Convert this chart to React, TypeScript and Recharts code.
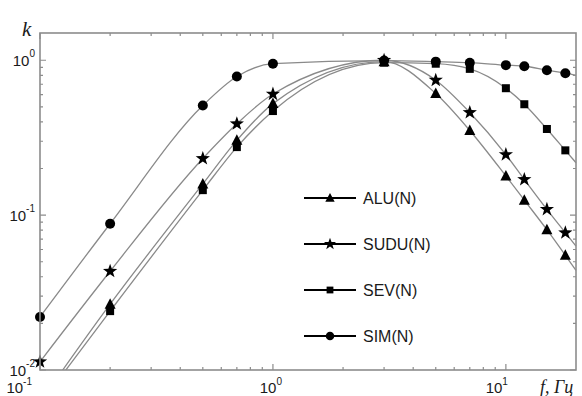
import React from 'react';
import { ComposedChart, Line, Scatter, XAxis, YAxis, Legend } from 'recharts';

// frequencies (Hz) and values k for each series
const freq = [0.1, 0.2, 0.5, 0.7, 1, 3, 5, 7, 10, 12, 15, 18, 20];
const aluValues = [0.0062, 0.0266, 0.159, 0.304, 0.525, 0.98, 0.61, 0.352, 0.179, 0.125, 0.0805, 0.055, 0.044];
const suduValues = [0.0113, 0.0434, 0.232, 0.389, 0.605, 1.0, 0.744, 0.46, 0.246, 0.17, 0.109, 0.077, 0.063];
const sevValues = [0.006, 0.024, 0.145, 0.275, 0.47, 0.965, 0.95, 0.88, 0.66, 0.52, 0.36, 0.262, 0.218];
const simValues = [0.022, 0.088, 0.51, 0.785, 0.95, 0.995, 0.98, 0.965, 0.93, 0.915, 0.863, 0.825, 0.8];
const markerFreq = [0.1, 0.2, 0.5, 0.7, 1, 3, 5, 7, 10, 12, 15, 18];
const seriesNames = ['ALU(N)', 'SUDU(N)', 'SEV(N)', 'SIM(N)'];
const markerKinds = ['triangle', 'star', 'square', 'circle'];

const xMajorTicks = [0.1, 1, 10];
const xExponents = ['-1', '0', '1'];
const xMinorTicks = [0.2, 0.3, 0.4, 0.5, 0.6, 0.7, 0.8, 0.9, 2, 3, 4, 5, 6, 7, 8, 9];
const yMajorTicks = [0.01, 0.1, 1];
const yExponents = ['-2', '-1', '0'];
const yMinorTicks = [0.02, 0.03, 0.04, 0.05, 0.06, 0.07, 0.08, 0.09, 0.2, 0.3, 0.4, 0.5, 0.6, 0.7, 0.8, 0.9];

const xTicks = [...xMajorTicks, ...xMinorTicks].sort((a, b) => a - b);
const yTicks = [...yMajorTicks, ...yMinorTicks].sort((a, b) => a - b);
const X_DOMAIN: [number, number] = [0.1, 20];
const Y_DOMAIN: [number, number] = [0.01, 1.5];

const seriesValues = [aluValues, suduValues, sevValues, simValues];
const curveData = seriesValues.map((vals) => freq.map((f, i) => ({ f, k: vals[i] })));
const markerData = seriesValues.map((vals) =>
  freq
    .map((f, i) => ({ f, k: vals[i] }))
    .filter((p) => markerFreq.includes(p.f) && p.k >= Y_DOMAIN[0])
);

// layout
const W = 582;
const H = 396;
const M_TOP = 32;
const M_RIGHT = 5;
const X_AXIS_H = 26;
const Y_AXIS_W = 40;
const PLOT_LEFT = Y_AXIS_W;
const PLOT_TOP = M_TOP + 1;
const PLOT_H = H - M_TOP - X_AXIS_H - 1;
const PLOT_W = W - M_RIGHT - Y_AXIS_W - 1;

const FRAME = '#8c8c8c';
const CURVE = '#8a8a8a';
const TEXT = '#1a1a1a';
const SANS = '"Liberation Sans", Arial, sans-serif';
const SERIF = '"Liberation Serif", "Times New Roman", serif';

function starPoints(cx: number, cy: number, R: number, r: number) {
  const pts: string[] = [];
  for (let i = 0; i < 10; i++) {
    const rad = i % 2 === 0 ? R : r;
    const a = -Math.PI / 2 + (i * Math.PI) / 5;
    pts.push(`${cx + rad * Math.cos(a)},${cy + rad * Math.sin(a)}`);
  }
  return pts.join(' ');
}

function Marker({ kind, cx, cy, s = 1 }: { kind: string; cx: number; cy: number; s?: number }) {
  if (cx == null || cy == null) return null;
  if (kind === 'circle') return <circle cx={cx} cy={cy} r={5 * s} fill="#000" />;
  if (kind === 'square')
    return <rect x={cx - 4 * s} y={cy - 4 * s} width={8 * s} height={8 * s} fill="#000" />;
  if (kind === 'triangle')
    return (
      <polygon
        points={`${cx},${cy - 6 * s} ${cx - 5.5 * s},${cy + 4.5 * s} ${cx + 5.5 * s},${cy + 4.5 * s}`}
        fill="#000"
      />
    );
  return <polygon points={starPoints(cx, cy, 7.5 * s, 3 * s)} fill="#000" />;
}

const xLabelShift: Record<string, number> = { '-1': -8, '0': 9, '1': 2 };

// bottom axis: labels only
const BottomLabel = (props: any) => {
  const { x, y, payload } = props;
  const mi = xMajorTicks.indexOf(payload.value);
  if (mi < 0) return <g />;
  return (
    <text
      x={x + xLabelShift[xExponents[mi]]}
      y={y + 23}
      textAnchor="end"
      fontFamily={SANS}
      fontSize={15}
      fill={TEXT}
    >
      10
      <tspan dy={-8} fontSize={10}>
        {xExponents[mi]}
      </tspan>
    </text>
  );
};

// top axis: inward ticks on top and bottom edges
const XTickMarks = (props: any) => {
  const { x, y, payload } = props;
  const len = xMajorTicks.includes(payload.value) ? 6 : 3;
  const yb = y + PLOT_H;
  return (
    <path
      d={`M${x},${y}V${y + len}M${x},${yb}V${yb - len}`}
      stroke={FRAME}
      strokeWidth={1.2}
      fill="none"
    />
  );
};

// left axis: labels + inward ticks on left and right edges
const LeftTick = (props: any) => {
  const { x, y, payload } = props;
  const mi = yMajorTicks.indexOf(payload.value);
  const len = mi >= 0 ? 6 : 3;
  const xr = x + PLOT_W;
  return (
    <g>
      <path
        d={`M${x},${y}H${x + len}M${xr},${y}H${xr - len}`}
        stroke={FRAME}
        strokeWidth={1.2}
        fill="none"
      />
      {mi >= 0 && (
        <text x={x - 5} y={y + 5.5} textAnchor="end" fontFamily={SANS} fontSize={15} fill={TEXT}>
          10
          <tspan dy={-9} fontSize={10}>
            {yExponents[mi]}
          </tspan>
        </text>
      )}
    </g>
  );
};

const LegendBox = () => (
  <svg width={140} height={184} style={{ display: 'block', overflow: 'visible' }}>
    {seriesNames.map((name, i) => {
      const cy = 23 + i * 46;
      return (
        <g key={name}>
          <line x1={4} x2={56} y1={cy} y2={cy} stroke="#000" strokeWidth={2} />
          <Marker kind={markerKinds[i]} cx={30} cy={cy} s={0.85} />
          <text x={63} y={cy + 5.5} fontFamily={SANS} fontSize={16} fill={TEXT}>
            {name}
          </text>
        </g>
      );
    })}
  </svg>
);

const drawOrder = [3, 2, 0, 1];

const common = {
  type: 'number' as const,
  scale: 'log' as const,
  interval: 0 as const,
  tickLine: false,
  tickSize: 0,
  tickMargin: 0,
  stroke: FRAME,
  axisLine: false,
};

export default function App() {
  return (
    <div style={{ position: 'absolute', left: 0, top: 0, width: W, height: H, background: '#fff' }}>
      <ComposedChart
        width={W}
        height={H}
        margin={{ top: M_TOP, right: M_RIGHT, bottom: 0, left: 0 }}
        style={{ fontFamily: SANS }}
      >
        <XAxis
          xAxisId="b"
          orientation="bottom"
          dataKey="f"
          domain={X_DOMAIN}
          ticks={xMajorTicks}
          {...common}
          tick={BottomLabel}
          height={X_AXIS_H}
        />
        <XAxis
          xAxisId="t"
          orientation="top"
          dataKey="f"
          domain={X_DOMAIN}
          allowDataOverflow
          ticks={xTicks}
          {...common}
          tick={XTickMarks}
          height={1}
        />
        <YAxis
          yAxisId="l"
          orientation="left"
          dataKey="k"
          domain={Y_DOMAIN}
          allowDataOverflow
          ticks={yTicks}
          {...common}
          tick={LeftTick}
          width={Y_AXIS_W}
        />
        <YAxis
          yAxisId="r"
          orientation="right"
          dataKey="k"
          domain={Y_DOMAIN}
          ticks={yMajorTicks}
          {...common}
          tick={false}
          width={1}
        />
        {curveData.map((d, i) => (
          <Line
            key={'c' + i}
            data={d}
            xAxisId="b"
            yAxisId="l"
            dataKey="k"
            type="monotone"
            stroke={CURVE}
            strokeWidth={1.3}
            dot={false}
            activeDot={false}
            isAnimationActive={false}
            legendType="none"
          />
        ))}
        {drawOrder.map((i) => (
          <Scatter
            key={'m' + i}
            data={markerData[i]}
            xAxisId="b"
            yAxisId="r"
            dataKey="k"
            name={seriesNames[i]}
            isAnimationActive={false}
            shape={(p: any) => <Marker kind={markerKinds[i]} cx={p.cx} cy={p.cy} />}
          />
        ))}
        <Legend
          layout="vertical"
          align="center"
          verticalAlign="middle"
          wrapperStyle={{ left: 300, top: 175, width: 140, height: 184 }}
          content={() => <LegendBox />}
        />
      </ComposedChart>
      <svg width={W} height={H} style={{ position: 'absolute', left: 0, top: 0, pointerEvents: 'none' }}>
        {/* plot frame */}
        <rect
          x={PLOT_LEFT}
          y={PLOT_TOP}
          width={PLOT_W}
          height={PLOT_H}
          fill="none"
          stroke={FRAME}
          strokeWidth={1.6}
        />
        <text x={22} y={36} fontFamily={SERIF} fontStyle="italic" fontSize={21} fill={TEXT}>
          k
        </text>
        <text x={540} y={393} fontFamily={SERIF} fontStyle="italic" fontSize={18} fill={TEXT}>
          f, Гц
        </text>
      </svg>
    </div>
  );
}
